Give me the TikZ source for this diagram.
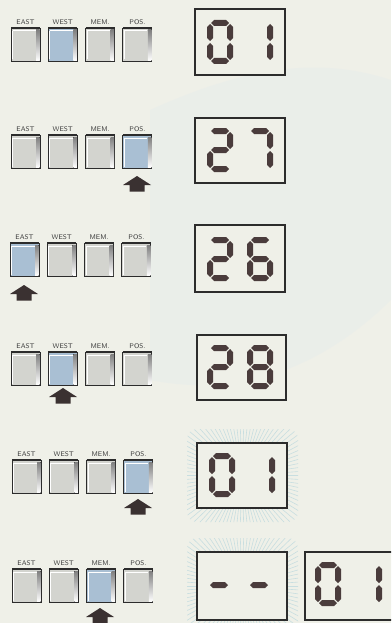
\documentclass[tikz,border=0pt]{standalone}
\usetikzlibrary{calc}
\definecolor{bg}{HTML}{EFF0E8}
\definecolor{face}{HTML}{D3D4CF}
\definecolor{pressed}{HTML}{A9BFD3}
\definecolor{edge}{HTML}{2C2C2C}
\definecolor{segc}{HTML}{4A3C3C}
\definecolor{ray}{HTML}{C8DEE0}
\definecolor{arrowc}{HTML}{3A3131}
\definecolor{shade}{HTML}{6E6E6C}
\definecolor{lblc}{HTML}{3A3A3A}
\definecolor{wm}{HTML}{E8EDEB}
\tikzset{
  btn/.style={anchor=north west, draw=edge, line width=0.9pt, minimum width=29pt, minimum height=33pt, inner sep=0pt, outer sep=0pt},
  disp/.style={anchor=north west, draw=edge, line width=1.3pt, fill=bg, inner sep=0pt, outer sep=0pt},
  lbl/.style={font=\sffamily\fontsize{6.8}{7}\selectfont, text=lblc, inner sep=0pt},
  blockarrow/.style={fill=arrowc}
}
\newcommand\dsega{\fill[segc] (4,3) -- (7,0) -- (19,0) -- (22,3) -- (19,6) -- (7,6) -- cycle;}
\newcommand\dsegg{\fill[segc] (4,22) -- (7,19) -- (19,19) -- (22,22) -- (19,25) -- (7,25) -- cycle;}
\newcommand\dsegd{\fill[segc] (4,41) -- (7,38) -- (19,38) -- (22,41) -- (19,44) -- (7,44) -- cycle;}
\newcommand\dsegf{\fill[segc] (3,4) -- (6,7) -- (6,18) -- (3,21) -- (0,18) -- (0,7) -- cycle;}
\newcommand\dsegb{\fill[segc] (23,4) -- (26,7) -- (26,18) -- (23,21) -- (20,18) -- (20,7) -- cycle;}
\newcommand\dsege{\fill[segc] (3,23) -- (6,26) -- (6,37) -- (3,40) -- (0,37) -- (0,26) -- cycle;}
\newcommand\dsegc{\fill[segc] (23,23) -- (26,26) -- (26,37) -- (23,40) -- (20,37) -- (20,26) -- cycle;}
\newcommand\digit[3]{\begin{scope}[shift={(#1,#2)}]\foreach \s in {#3}{\csname dseg\s\endcsname}\end{scope}}
\newcommand\buttonrow[4]{%
  \foreach \i/\lab in {1/EAST,2/WEST,3/MEM.,4/POS.}{
    \pgfmathsetmacro\bx{#2+(\i-1)*37.3}
    \ifnum\i=#4 \def\fc{pressed}\else\def\fc{face}\fi
    \node[btn, fill=\fc] (b#1\i) at (\bx,#3) {};
    \fill[shade] ($(b#1\i.north east)+(-4,2)$) rectangle ($(b#1\i.south east)+(-0.5,-0.5)$);
    \draw[edge, line width=1.8pt] (b#1\i.north west) -- (b#1\i.north east);
    \draw[white, line width=0.6pt] ($(b#1\i.north west)+(1.5,2.8)$) -- ($(b#1\i.north east)+(-4.5,2.8)$);
    \draw[white, line width=0.6pt] ($(b#1\i.north west)+(1.3,2.8)$) -- ($(b#1\i.south west)+(1.3,-1.5)$);
    \node[lbl] (l#1\i) at ($(b#1\i.north)+(0,-5.5)$) {\lab};
  }}
\newcommand\glow[4]{%
  \begin{scope}
    \clip[rounded corners=10pt] (#1-10,#2-14) rectangle (#3+11,#4+14);
    \foreach \a in {0,4,...,356}
      \draw[ray, line width=0.6pt] ({(#1+#3)/2},{(#2+#4)/2}) -- +(\a:130);
  \end{scope}}
\newcommand\uparr[2]{%
  \fill[blockarrow] (#1,#2) -- (#1+14,#2+9) -- (#1+7.5,#2+9) -- (#1+7.5,#2+15.5) -- (#1-7.5,#2+15.5) -- (#1-7.5,#2+9) -- (#1-14,#2+9) -- cycle;}
\begin{document}
\begin{tikzpicture}[x=1pt,y=-1pt]
\useasboundingbox (0,0) rectangle (391,623);
\fill[bg] (0,0) rectangle (391,623);
\clip (0,0) rectangle (391,623);
% faint background watermark
\fill[wm, opacity=0.6] (150,110) .. controls (260,60) and (330,60) .. (391,80) -- (391,300) .. controls (330,360) and (250,400) .. (150,380) -- cycle;
% glows
\glow{197}{443}{287}{508}
\glow{197}{552}{287}{620}
% displays
\node[disp, minimum width=90pt, minimum height=66pt] (d1) at (195,9) {};
\node[disp, minimum width=90pt, minimum height=65pt] (d2) at (195,118) {};
\node[disp, minimum width=90pt, minimum height=67pt] (d3) at (195,225) {};
\node[disp, minimum width=89pt, minimum height=65pt] (d4) at (197,335) {};
\node[disp, minimum width=90pt, minimum height=65pt] (d5) at (197,443) {};
\node[disp, minimum width=90pt, minimum height=68pt] (d6a) at (197,552) {};
\node[disp, minimum width=95pt, minimum height=68pt] (d6b) at (305,552) {};
% digits
\digit{207}{20}{a,b,c,d,e,f}\digit{247}{20}{b,c}
\digit{207}{128}{a,b,g,e,d}\digit{247}{128}{a,b,c}
\digit{207}{237}{a,b,g,e,d}\digit{247}{237}{a,f,g,e,d,c}
\digit{207}{345}{a,b,g,e,d}\digit{247}{345}{a,b,c,d,e,f,g}
\digit{209}{453}{a,b,c,d,e,f}\digit{249}{453}{b,c}
\digit{206}{563}{g}\digit{246}{563}{g}
\digit{315}{562}{a,b,c,d,e,f}\digit{356}{562}{b,c}
% buttons
\buttonrow{1}{11}{28}{2}
\buttonrow{2}{11}{135}{4}
\buttonrow{3}{10}{243}{1}
\buttonrow{4}{11}{352}{2}
\buttonrow{5}{12}{460}{4}
\buttonrow{6}{12}{569}{3}
% arrows
\uparr{137}{176}
\uparr{24}{285}
\uparr{63}{388}
\uparr{138}{499}
\uparr{100}{608}
\end{tikzpicture}
\end{document}
